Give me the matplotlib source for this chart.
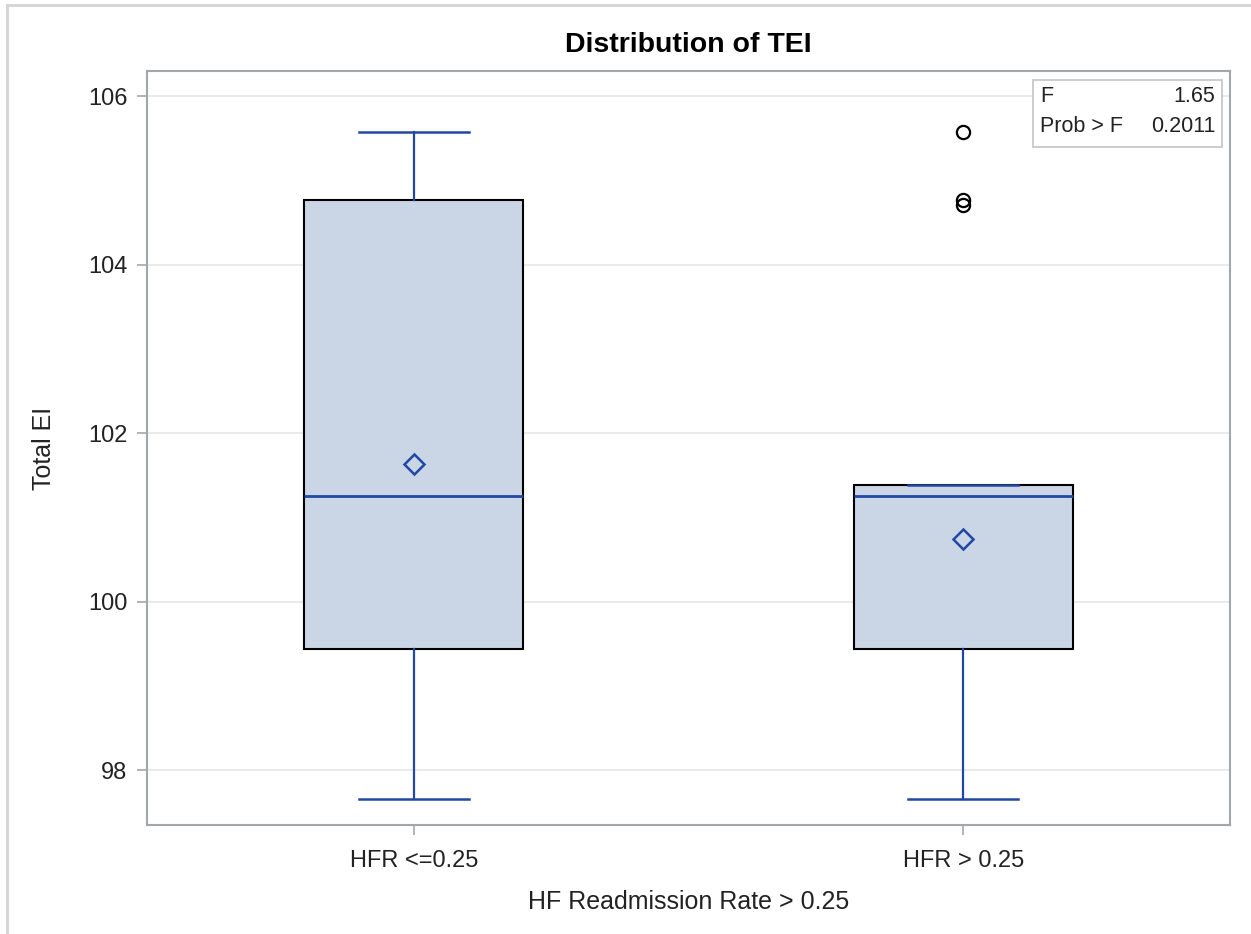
import matplotlib
matplotlib.use("Agg")
import matplotlib.pyplot as plt
from matplotlib.lines import Line2D
from matplotlib.patches import Rectangle

# Summary statistics of Total EI for each readmission group
groups = ["HFR <=0.25", "HFR > 0.25"]
whisker_low = [97.66, 97.66]
q1 = [99.44, 99.44]
median = [101.26, 101.26]
q3 = [104.77, 101.38]
whisker_high = [105.58, 101.38]
mean = [101.64, 100.75]
outliers = [[], [105.58, 104.77, 104.71]]

# ANOVA results shown in the inset
f_value = "1.65"
prob_f = "0.2011"

plt.rcParams["font.family"] = ["Liberation Sans", "DejaVu Sans"]

BLUE = "#2148a3"
FILL = "#cad5e6"
FRAME = "#a3a7ab"
GRID = "#e4e6e8"
TEXT = "#222222"

fig = plt.figure(figsize=(12.51, 9.34), dpi=100)
ax = fig.add_axes([147 / 1251, 1 - 825 / 934, (1230 - 147) / 1251, (825 - 71) / 934])

stats = []
for i, g in enumerate(groups):
    stats.append(dict(label=g, whislo=whisker_low[i], q1=q1[i], med=median[i],
                      q3=q3[i], whishi=whisker_high[i], mean=mean[i],
                      fliers=outliers[i]))

positions = list(range(len(groups)))
ax.bxp(stats, positions=positions, widths=0.398, patch_artist=True,
       showmeans=True, showfliers=True,
       boxprops=dict(facecolor=FILL, edgecolor="black", linewidth=1.5),
       medianprops=dict(color=BLUE, linewidth=2),
       whiskerprops=dict(color=BLUE, linewidth=1.6),
       capprops=dict(color=BLUE, linewidth=1.8),
       capwidths=0.2,
       meanprops=dict(marker="D", markerfacecolor="none", markeredgecolor=BLUE,
                      markeredgewidth=1.8, markersize=10.5),
       flierprops=dict(marker="o", markerfacecolor="none", markeredgecolor="black",
                       markeredgewidth=1.6, markersize=9.5))

ax.set_xlim(-0.4855, 1.4855)
ax.set_ylim(97.35, 106.30)
ax.set_yticks([98, 100, 102, 104, 106])
ax.set_xticks(positions)
ax.set_xticklabels(groups)

ax.grid(axis="y", color=GRID, linewidth=1.2)
ax.set_axisbelow(True)
for s in ax.spines.values():
    s.set_color(FRAME)
    s.set_linewidth(1.5)
ax.tick_params(axis="both", which="major", direction="out", length=7, width=1.2,
               color=FRAME, labelsize=17, labelcolor=TEXT)
ax.tick_params(axis="y", pad=7)
ax.tick_params(axis="x", pad=11)

ax.set_title("Distribution of TEI", fontsize=20.5, fontweight="bold", pad=14)
ax.set_xlabel("HF Readmission Rate > 0.25", fontsize=18, color=TEXT, labelpad=13)
ax.set_ylabel("Total EI", fontsize=18, color=TEXT, labelpad=23)

# Inset with F statistic
x0, y0, x1, y1 = 1033 / 1251, 1 - 147 / 934, 1222 / 1251, 1 - 80 / 934
fig.patches.append(Rectangle((x0, y0), x1 - x0, y1 - y0, transform=fig.transFigure,
                             facecolor="white", edgecolor="#c8c8c8", linewidth=1.3,
                             zorder=5))
for ypix, left, right in [(96, "F", f_value), (127, "Prob > F", prob_f)]:
    fig.text(1040 / 1251, 1 - ypix / 934, left, fontsize=15.5, va="center", ha="left",
             zorder=6, color=TEXT)
    fig.text(1215 / 1251, 1 - ypix / 934, right, fontsize=15.5, va="center", ha="right",
             zorder=6, color=TEXT)

# Outer frame of the graph area
fig.add_artist(Line2D([7 / 1251, 1.0], [1 - 5 / 934, 1 - 5 / 934], transform=fig.transFigure,
                      color="#d4d4d4", linewidth=2))
fig.add_artist(Line2D([7 / 1251, 7 / 1251], [0.0, 1 - 5 / 934], transform=fig.transFigure,
                      color="#d4d4d4", linewidth=2))

fig.savefig("out.png", dpi=100, facecolor="white")
